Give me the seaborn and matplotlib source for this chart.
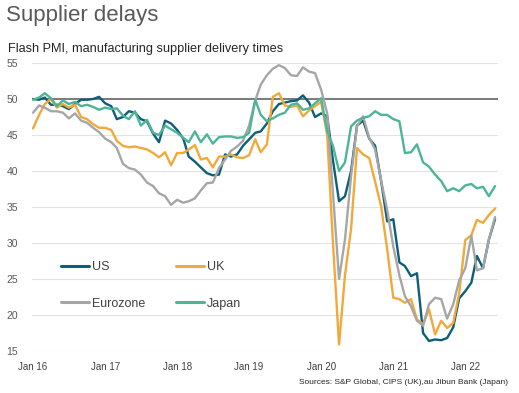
import pandas as pd
import numpy as np
import matplotlib
matplotlib.use('Agg')
import matplotlib.pyplot as plt
import seaborn as sns

# Monthly flash PMI supplier delivery times, Jan 2016 - Jun 2022
months = pd.date_range('2016-01-01', '2022-06-01', freq='MS')

us = [50.0, 49.9, 50.2, 49.2, 49.2, 49.0, 48.6, 49.3, 49.9, 49.9, 50.0, 50.3,
      49.4, 49.0, 47.2, 47.5, 48.3, 48.1, 47.2, 46.9, 45.2, 44.0, 47.0, 46.6,
      45.7, 44.5, 42.0, 41.3, 40.5, 39.7, 39.4, 39.5, 42.3, 42.0, 42.3, 43.5,
      44.4, 45.3, 45.5, 46.6, 48.3, 49.3, 49.5, 49.7, 49.8, 50.5, 49.5, 47.5,
      48.0, 47.6, 41.5, 35.8, 36.5, 40.0, 46.3, 47.0, 44.5, 43.5, 38.5, 33.0,
      33.3, 27.3, 26.8, 25.4, 25.8, 17.5, 16.4, 16.6, 16.5, 16.8, 18.3, 22.3,
      23.3, 24.5, 28.2, 26.5, 30.5, 33.3]

uk = [45.9, 47.8, 49.3, 50.0, 48.8, 49.3, 48.8, 49.2, 47.5, 47.2, 46.5, 46.0,
      46.0, 45.7, 44.2, 43.5, 43.3, 43.4, 43.2, 43.0, 42.5, 41.9, 42.6, 40.8,
      42.5, 42.5, 43.0, 43.6, 41.6, 41.8, 40.5, 42.0, 42.0, 42.3, 41.9, 41.8,
      42.2, 44.4, 42.6, 43.7, 50.3, 50.8, 49.1, 48.9, 49.1, 47.6, 48.4, 49.0,
      49.6, 45.0, 30.0, 15.9, 25.5, 32.0, 43.2, 42.3, 41.8, 38.5, 35.0, 29.1,
      22.4, 22.2, 21.7, 22.2, 19.4, 18.7, 20.8, 17.3, 19.2, 18.2, 18.9, 23.0,
      30.4, 31.1, 33.2, 32.8, 33.9, 34.8]

eurozone = [48.1, 49.1, 48.8, 48.3, 48.3, 48.1, 47.3, 48.0, 47.0, 46.7, 46.0, 45.4,
            44.5, 44.0, 43.2, 41.0, 40.4, 40.2, 39.5, 38.4, 37.9, 36.9, 36.5, 35.3,
            36.0, 35.6, 35.8, 36.2, 37.3, 38.3, 38.4, 40.4, 41.6, 42.8, 43.4, 44.2,
            46.3, 49.8, 52.0, 53.3, 54.2, 54.7, 54.3, 53.3, 53.2, 54.4, 53.8, 53.6,
            51.3, 48.0, 37.0, 25.0, 30.5, 39.3, 46.2, 47.6, 44.6, 43.0, 38.6, 34.6,
            29.5, 25.5, 22.6, 21.2, 19.2, 18.5, 21.5, 22.4, 22.2, 19.5, 21.5, 24.8,
            26.5, 31.0, 26.2, 26.5, 30.5, 33.6]

japan = [49.9, 50.2, 50.8, 50.1, 49.0, 49.8, 49.3, 49.6, 49.0, 49.2, 48.9, 48.5,
         48.8, 48.6, 48.7, 47.7, 47.2, 48.3, 46.3, 47.1, 45.3, 45.0, 46.3, 45.8,
         45.3, 44.6, 44.0, 45.5, 44.0, 45.1, 43.8, 44.7, 44.8, 44.8, 44.6, 44.7,
         45.3, 49.9, 47.8, 46.9, 47.3, 47.8, 48.1, 49.2, 49.4, 48.5, 48.7, 49.4,
         50.1, 45.5, 43.5, 40.0, 41.2, 46.2, 47.0, 47.4, 47.6, 48.3, 47.8, 47.8,
         47.2, 46.9, 42.5, 42.6, 43.7, 41.2, 40.6, 39.5, 38.6, 37.2, 37.6, 37.2,
         38.0, 38.2, 37.6, 37.8, 36.5, 37.9]

series_names = ['US', 'UK', 'Eurozone', 'Japan']
colors = {'US': '#0d5f78', 'UK': '#f2a93b', 'Eurozone': '#a6a6a6', 'Japan': '#4db597'}

yticks = [15, 20, 25, 30, 35, 40, 45, 50, 55]
xtick_labels = ['Jan 16', 'Jan 17', 'Jan 18', 'Jan 19', 'Jan 20', 'Jan 21', 'Jan 22']

# long format for seaborn
df = pd.DataFrame({'month': months, 'US': us, 'UK': uk,
                   'Eurozone': eurozone, 'Japan': japan})
long_df = df.melt(id_vars='month', var_name='series', value_name='value')

sns.set_style('white')
plt.rcParams['font.family'] = ['Liberation Sans', 'DejaVu Sans']

fig = plt.figure(figsize=(5.19, 3.93), dpi=100)
ax = fig.add_axes([32 / 519, 1 - 351 / 393, 466 / 519, 288 / 393])

# gridlines first so lines sit on top
for v in yticks:
    if v == 50:
        continue
    ax.axhline(v, color='#e3e3e3', lw=0.8, zorder=0)
ax.axhline(50, color='#7a7a7a', lw=1.4, zorder=1)

sns.lineplot(data=long_df, x='month', y='value', hue='series',
             hue_order=series_names, palette=colors, linewidth=1.7,
             legend=False, ax=ax, zorder=3)

ax.set_ylim(15, 55)
ax.set_xlim(pd.Timestamp('2015-12-27'), pd.Timestamp('2022-06-16'))
ax.set_yticks(yticks)
ax.set_yticklabels([str(v) for v in yticks], fontsize=7.5, color='#595959')
ax.set_xticks([pd.Timestamp(f'20{lab[-2:]}-01-01') for lab in xtick_labels])
ax.set_xticklabels(xtick_labels, fontsize=7, color='#404040')
ax.tick_params(axis='both', length=0)
ax.tick_params(axis='y', pad=10)
ax.tick_params(axis='x', pad=8)
ax.set_xlabel('')
ax.set_ylabel('')
sns.despine(ax=ax, left=True, bottom=True)

# legend, two columns inside the plot area (filled column-wise)
legend_order = ['US', 'Eurozone', 'UK', 'Japan']
handles = [plt.Line2D([0], [0], color=colors[s], lw=2.2) for s in legend_order]
fig.legend(handles, legend_order, ncol=2, loc='upper left',
           bbox_to_anchor=(55 / 519, 1 - 255 / 393), frameon=False,
           fontsize=9, handlelength=2.2, handletextpad=0.25,
           labelspacing=1.95, columnspacing=2.5, borderpad=0,
           labelcolor='#404040')

fig.text(6 / 519, 1 - 21 / 393, 'Supplier delays', fontsize=16,
         color='#595959', ha='left', va='baseline')
fig.text(8 / 519, 1 - 52 / 393, 'Flash PMI, manufacturing supplier delivery times',
         fontsize=9.2, color='#262626', ha='left', va='baseline')
fig.text(508 / 519, 1 - 384 / 393,
         'Sources: S&P Global, CIPS (UK),au Jibun Bank (Japan)',
         fontsize=6, color='#262626', ha='right', va='baseline',
         family=['Liberation Sans Narrow', 'Liberation Sans', 'DejaVu Sans'])

fig.savefig('out.png', dpi=100)
